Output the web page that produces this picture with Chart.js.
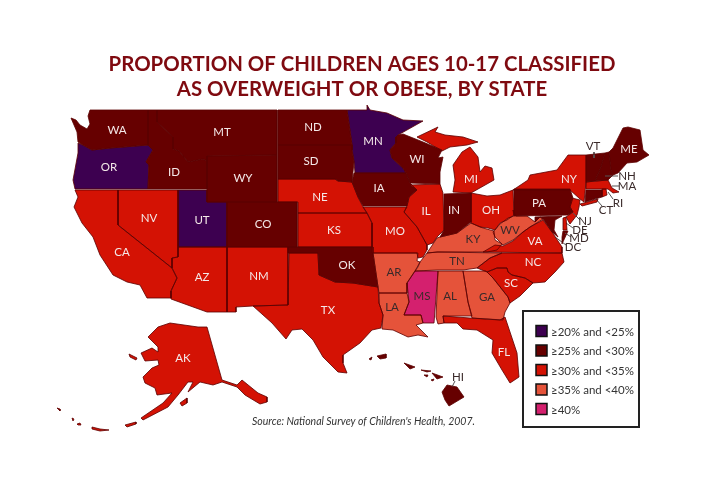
<!DOCTYPE html>
<html>
<head>
<meta charset="utf-8">
<script src="https://cdn.jsdelivr.net/npm/chart.js@4"></script>
<style>
  html, body { margin: 0; padding: 0; background: #fff; }
  canvas { display: block; }
</style>
</head>
<body>
<canvas id="map" width="720" height="480"></canvas>
<script>
'use strict';

const titleLines = ['PROPORTION OF CHILDREN AGES 10-17 CLASSIFIED', 'AS OVERWEIGHT OR OBESE, BY STATE'];
const sourceNote = "Source: National Survey of Children's Health, 2007.";
const binLabels = ['≥20% and <25%', '≥25% and <30%', '≥30% and <35%', '≥35% and <40%', '≥40%'];
const binColors = ['#3d0050', '#660000', '#d41204', '#e5533a', '#d4206e'];

// state outlines
const WA = [[71,118],[76,120],[80,125],[87,129],[90,124],[88,116],[90,110],[148,110],[148,145],[123,147],[110,148],[92,150],[83,145],[78,142],[77,132]];
const OR = [[78,143],[83,145],[92,150],[110,148],[123,147],[148,145],[153,150],[146,162],[149,165],[148,189],[75,189],[73,180],[78,153]];
const ID = [[148,110],[157,110],[157,122],[173,137],[173,149],[179,151],[188,162],[203,159],[207,161],[207,189],[148,189],[149,165],[146,162],[153,150],[148,145]];
const MT = [[157,110],[277,110],[277,155],[207,156],[207,161],[203,159],[188,162],[179,151],[173,149],[173,137],[157,122]];
const WY = [[207,156],[277,155],[277,202],[207,202]];
const UT = [[178,190],[207,190],[207,202],[227,202],[227,247],[178,247]];
const CO = [[227,202],[297,202],[297,247],[227,247]];
const NV = [[118,190],[178,190],[178,257],[172,258],[172,268],[118,225]];
const CA = [[75,190],[118,190],[118,225],[172,268],[177,278],[171,291],[171,298],[147,298],[140,285],[127,282],[113,275],[100,255],[93,237],[82,223],[74,207],[78,197]];
const AZ = [[178,247],[227,247],[227,312],[207,312],[171,299],[171,291],[177,278],[172,268],[172,258],[178,257]];
const NM = [[227,247],[288,247],[288,305],[253,306],[236,307],[236,312],[227,312]];
const TX = [[289,253],[318,253],[319,275],[335,282],[353,283],[378,287],[379,303],[383,315],[381,328],[372,330],[360,343],[343,355],[343,363],[347,373],[338,372],[323,357],[313,340],[302,329],[292,330],[286,339],[272,323],[253,306],[288,305]];
const OK = [[288,247],[373,247],[373,253],[378,287],[353,283],[335,282],[319,275],[318,253],[288,253]];
const KS = [[298,213],[367,213],[372,223],[372,247],[298,247]];
const NE = [[278,179],[335,179],[338,181],[352,182],[358,197],[363,207],[367,213],[298,213],[298,202],[278,202]];
const SD = [[278,145],[352,145],[352,150],[354,162],[352,182],[338,181],[335,179],[278,179]];
const ND = [[278,110],[347,110],[352,145],[278,145]];
const MN = [[347,110],[367,110],[367,105],[370,110],[387,113],[403,120],[423,121],[398,135],[396,137],[396,143],[390,150],[392,158],[403,168],[406,173],[355,173],[354,162],[352,150],[352,145]];
const IA = [[354,173],[406,173],[410,183],[417,190],[409,197],[407,206],[363,206],[358,197],[352,182]];
const MO = [[363,207],[407,207],[404,212],[417,227],[427,245],[427,250],[423,257],[418,258],[417,253],[372,253],[372,223],[367,213]];
const WI = [[398,135],[396,137],[396,143],[390,150],[392,158],[403,168],[406,173],[410,183],[440,184],[440,172],[443,157],[438,158],[442,150],[423,142],[403,134]];
const IL = [[410,185],[440,184],[443,193],[444,230],[437,237],[433,243],[427,245],[417,227],[404,212],[407,206],[409,197],[417,190]];
const IN = [[444,194],[471,193],[471,222],[457,233],[440,237],[444,230]];
const MI_UP = [[417,137],[438,127],[435,132],[445,135],[463,137],[478,142],[467,145],[450,147],[442,151],[427,142]];
const MI_LP = [[453,192],[471,193],[494,180],[492,168],[485,166],[480,172],[478,157],[470,147],[462,152],[453,165],[455,180]];
const OH = [[471,193],[487,196],[500,195],[513,190],[514,215],[507,220],[500,223],[495,230],[488,228],[480,227],[471,223]];
const KY = [[471,223],[483,228],[494,231],[495,240],[502,244],[497,250],[487,252],[438,252],[427,253],[437,238],[440,237],[457,233]];
const WV = [[514,216],[513,210],[516,216],[527,216],[535,222],[540,217],[543,219],[530,227],[523,232],[513,240],[503,245],[495,237],[493,232],[500,224],[508,218]];
const VA = [[543,220],[552,232],[562,247],[562,253],[483,252],[495,245],[503,246],[513,241],[523,232],[530,227]];
const NC = [[502,253],[562,253],[564,262],[555,272],[545,282],[533,283],[525,278],[512,275],[508,272],[507,268],[497,268],[487,272],[477,268],[490,258]];
const SC = [[487,272],[497,268],[507,268],[508,272],[512,275],[525,278],[533,283],[520,296],[510,303],[508,297],[493,278]];
const GA = [[463,271],[486,271],[493,278],[508,297],[510,303],[505,312],[503,320],[472,318],[468,302]];
const AL = [[438,271],[463,271],[468,302],[472,316],[443,316],[444,323],[438,324],[436,317]];
const MS = [[415,271],[438,271],[434,323],[423,323],[421,315],[404,315],[409,302],[407,283]];
const AR = [[373,253],[418,253],[417,261],[420,262],[415,271],[407,283],[407,293],[379,293],[378,287]];
const TN = [[420,262],[427,253],[437,252],[502,253],[490,258],[477,268],[463,270],[437,270],[415,271],[418,267]];
const LA = [[379,293],[407,293],[409,302],[404,315],[421,315],[423,323],[416,325],[428,337],[418,335],[408,337],[393,330],[382,329],[383,315],[379,303]];
const FL = [[443,316],[470,318],[500,320],[505,317],[517,353],[519,377],[510,383],[502,370],[492,353],[493,340],[477,330],[463,329],[457,323],[444,323]];
const NY = [[530,175],[528,180],[513,190],[570,190],[580,199],[584,202],[586,182],[586,155],[568,155],[557,170]];
const LI = [[580,204],[598,199],[597,202],[582,206]];
const PA = [[514,189],[570,189],[573,198],[570,207],[573,212],[568,215],[514,216]];
const NJ = [[572,198],[580,200],[579,207],[577,215],[570,224],[566,217],[573,212],[570,207]];
const MD = [[535,217],[562,216],[555,220],[554,230],[558,237],[552,232],[543,219],[540,217],[535,222]];
const MD_E = [[563,231],[568,231],[562,244],[562,237]];
const DE = [[563,218],[566,217],[567,230],[563,230]];
const MA = [[586,182],[608,180],[612,188],[619,192],[613,193],[608,189],[586,189]];
const CT = [[586,190],[602,190],[602,197],[585,202]];
const RI = [[602,189],[606,189],[607,195],[602,197]];
const VT = [[586,155],[605,153],[601,167],[595,181],[586,182]];
const NH = [[605,153],[609,152],[611,170],[613,175],[608,180],[595,181],[601,167]];
const ME = [[609,152],[613,148],[623,128],[628,127],[640,130],[643,150],[649,155],[637,162],[627,163],[618,173],[613,175],[611,170]];
const AK = [[170,323],[198,327],[207,327],[222,380],[237,385],[242,380],[258,393],[267,397],[267,402],[260,404],[245,395],[237,387],[222,382],[213,385],[200,382],[188,392],[193,382],[188,382],[178,395],[168,407],[143,420],[141,418],[163,403],[172,393],[157,395],[155,388],[145,383],[143,377],[152,368],[159,365],[158,360],[145,361],[141,353],[152,348],[158,352],[158,347],[148,337],[158,327]];
const AK_2 = [[129,354],[137,358],[136,360],[130,357]];
const AK_3 = [[180,403],[187,398],[187,403],[182,406]];
const AK_4 = [[125,425],[136,422],[136,424],[127,427]];
const AK_5 = [[92,427],[100,429],[109,430],[100,431],[92,429]];
const AK_6 = [[72,418],[74,419],[73,421]];
const AK_7 = [[77,424],[80,423],[81,425],[78,425]];
const AK_8 = [[57,408],[60,409],[60,411]];
const HI_1 = [[447,385],[457,387],[464,397],[449,406],[445,400],[442,392]];
const HI_2 = [[432,373],[443,377],[437,379]];
const HI_3 = [[404,363],[415,367],[410,369]];
const HI_4 = [[377,356],[386,354],[386,358],[380,359]];
const HI_5 = [[369,359],[372,357],[371,360]];
const HI_6 = [[421,370],[431,371],[427,372]];
const HI_7 = [[424,375],[428,375],[427,377]];
const HI_8 = [[431,380],[434,379],[433,381]];

const shapeOutlines = [WA,OR,ID,MT,WY,UT,CO,NV,CA,AZ,NM,TX,OK,KS,NE,SD,ND,MN,IA,MO,WI,IL,IN,MI_UP,MI_LP,OH,KY,WV,VA,NC,SC,GA,AL,MS,AR,TN,LA,FL,NY,LI,PA,NJ,MD,MD_E,DE,MA,CT,RI,VT,NH,ME,AK,AK_2,AK_3,AK_4,AK_5,AK_6,AK_7,AK_8,HI_1,HI_2,HI_3,HI_4,HI_5,HI_6,HI_7,HI_8];
// which legend bin each outline belongs to (same order)
const shapeBins = [1,0,1,1,1,0,1,2,2,2,2,2,1,2,2,1,1,0,1,2,1,2,1,2,2,2,3,3,2,2,2,3,3,4,3,3,3,2,2,2,1,2,1,1,2,2,1,2,1,1,1,2,2,2,2,2,2,2,2,1,1,1,1,1,1,1,1];

const labelCodes = ['WA','OR','ID','MT','WY','ND','SD','NE','KS','CO','UT','NV','CA','AZ','NM','TX','OK','MN','IA','MO','IL','IN','OH','WI','MI','PA','NY','ME','VA','NC','SC','FL','AK'];
const labelX = [117,109,174,222,243,313,311,320,334,263,202,149,122,202,259,328,347,373,379,395,426,454,491,417,471,539,569,629,535,533,511,504,183];
const labelY = [130,167,172,132,178,127,161,197,230,224,220,218,252,277,276,310,265,141,188,231,211,210,210,159,179,203,179,149,241,262,283,352,358];

const darkCodes = ['AR','LA','MS','AL','TN','GA','WV','KY','VT','NH','MA','RI','CT','NJ','DE','MD','DC','HI'];
const darkX = [394,392,422,450,457,487,510,473,593,627,627,618,606,585,580,579,573,458];
const darkY = [272,307,296,296,261,297,230,239,146,176,186,203,210,221,230,238,247,377];

const leaderLines = [
  [[594,152],[594,158]], [[605,176],[618,176]], [[612,186],[619,186]], [[608,192],[613,199]],
  [[595,198],[602,206]], [[573,213],[580,220]], [[566,223],[573,228]], [[565,233],[571,237]],
  [[555,237],[566,245]], [[455,381],[452,387]]
];

function toPoints(list) {
  return list.map(p => ({ x: p[0], y: p[1] }));
}

const datasets = [];
shapeOutlines.forEach((outline, i) => {
  datasets.push({
    data: toPoints(outline.concat([outline[0]])),
    showLine: true,
    fill: false,
    stateColor: binColors[shapeBins[i]],
    borderColor: '#5c0000',
    borderWidth: 0.8,
    pointRadius: 0
  });
});
leaderLines.forEach(l => {
  datasets.push({
    data: toPoints(l),
    showLine: true,
    fill: false,
    borderColor: '#555',
    borderWidth: 1,
    pointRadius: 0
  });
});

// line fill only clips to the x span of a line, so paint the closed outlines here
const stateFill = {
  id: 'stateFill',
  beforeDatasetsDraw(chart) {
    const ctx = chart.ctx;
    chart.data.datasets.forEach((ds, i) => {
      if (!ds.stateColor) return;
      const pts = chart.getDatasetMeta(i).data;
      ctx.beginPath();
      pts.forEach((p, j) => {
        if (j === 0) ctx.moveTo(p.x, p.y);
        else ctx.lineTo(p.x, p.y);
      });
      ctx.closePath();
      ctx.fillStyle = ds.stateColor;
      ctx.fill();
    });
  }
};

// labels, source note and the key box go on top of the map
const mapText = {
  id: 'mapText',
  afterDraw(chart) {
    const ctx = chart.ctx;
    const sx = chart.scales.x;
    const sy = chart.scales.y;
    ctx.save();
    ctx.textAlign = 'center';
    ctx.textBaseline = 'middle';
    ctx.font = '11.5px Lato';
    ctx.fillStyle = '#f4e8e8';
    labelCodes.forEach((code, i) => {
      ctx.fillText(code, sx.getPixelForValue(labelX[i]), sy.getPixelForValue(labelY[i]));
    });
    ctx.fillStyle = '#3a2a2a';
    darkCodes.forEach((code, i) => {
      ctx.fillText(code, sx.getPixelForValue(darkX[i]), sy.getPixelForValue(darkY[i]));
    });

    ctx.textAlign = 'left';
    ctx.font = 'italic 10.5px Lato';
    ctx.fillStyle = '#333';
    ctx.fillText(sourceNote, sx.getPixelForValue(252), sy.getPixelForValue(422));

    // key
    ctx.lineWidth = 2;
    ctx.strokeStyle = '#222';
    ctx.strokeRect(523, 311, 116, 116);
    ctx.font = '11.5px Lato';
    binLabels.forEach((label, i) => {
      const y = 331 + i * 19.5;
      ctx.fillStyle = binColors[i];
      ctx.fillRect(536, y - 5.5, 11, 11);
      ctx.lineWidth = 1.5;
      ctx.strokeStyle = '#111';
      ctx.strokeRect(536, y - 5.5, 11, 11);
      ctx.fillStyle = '#333';
      ctx.fillText(label, 551, y + 1);
    });
    ctx.restore();
  }
};

new Chart(document.getElementById('map'), {
  type: 'scatter',
  data: { datasets: datasets },
  plugins: [stateFill, mapText],
  options: {
    responsive: false,
    animation: false,
    events: [],
    layout: { padding: { left: 4 } },
    scales: {
      x: { type: 'linear', min: 4, max: 720, display: false },
      y: { type: 'linear', min: 102, max: 480, reverse: true, display: false }
    },
    plugins: {
      legend: { display: false },
      tooltip: { enabled: false },
      title: {
        display: true,
        text: titleLines,
        color: '#7f0a10',
        font: { family: 'Lato', size: 20.4, weight: 'bold', lineHeight: '25px' },
        padding: { top: 52, bottom: 0 }
      }
    }
  }
});
</script>
</body>
</html>
